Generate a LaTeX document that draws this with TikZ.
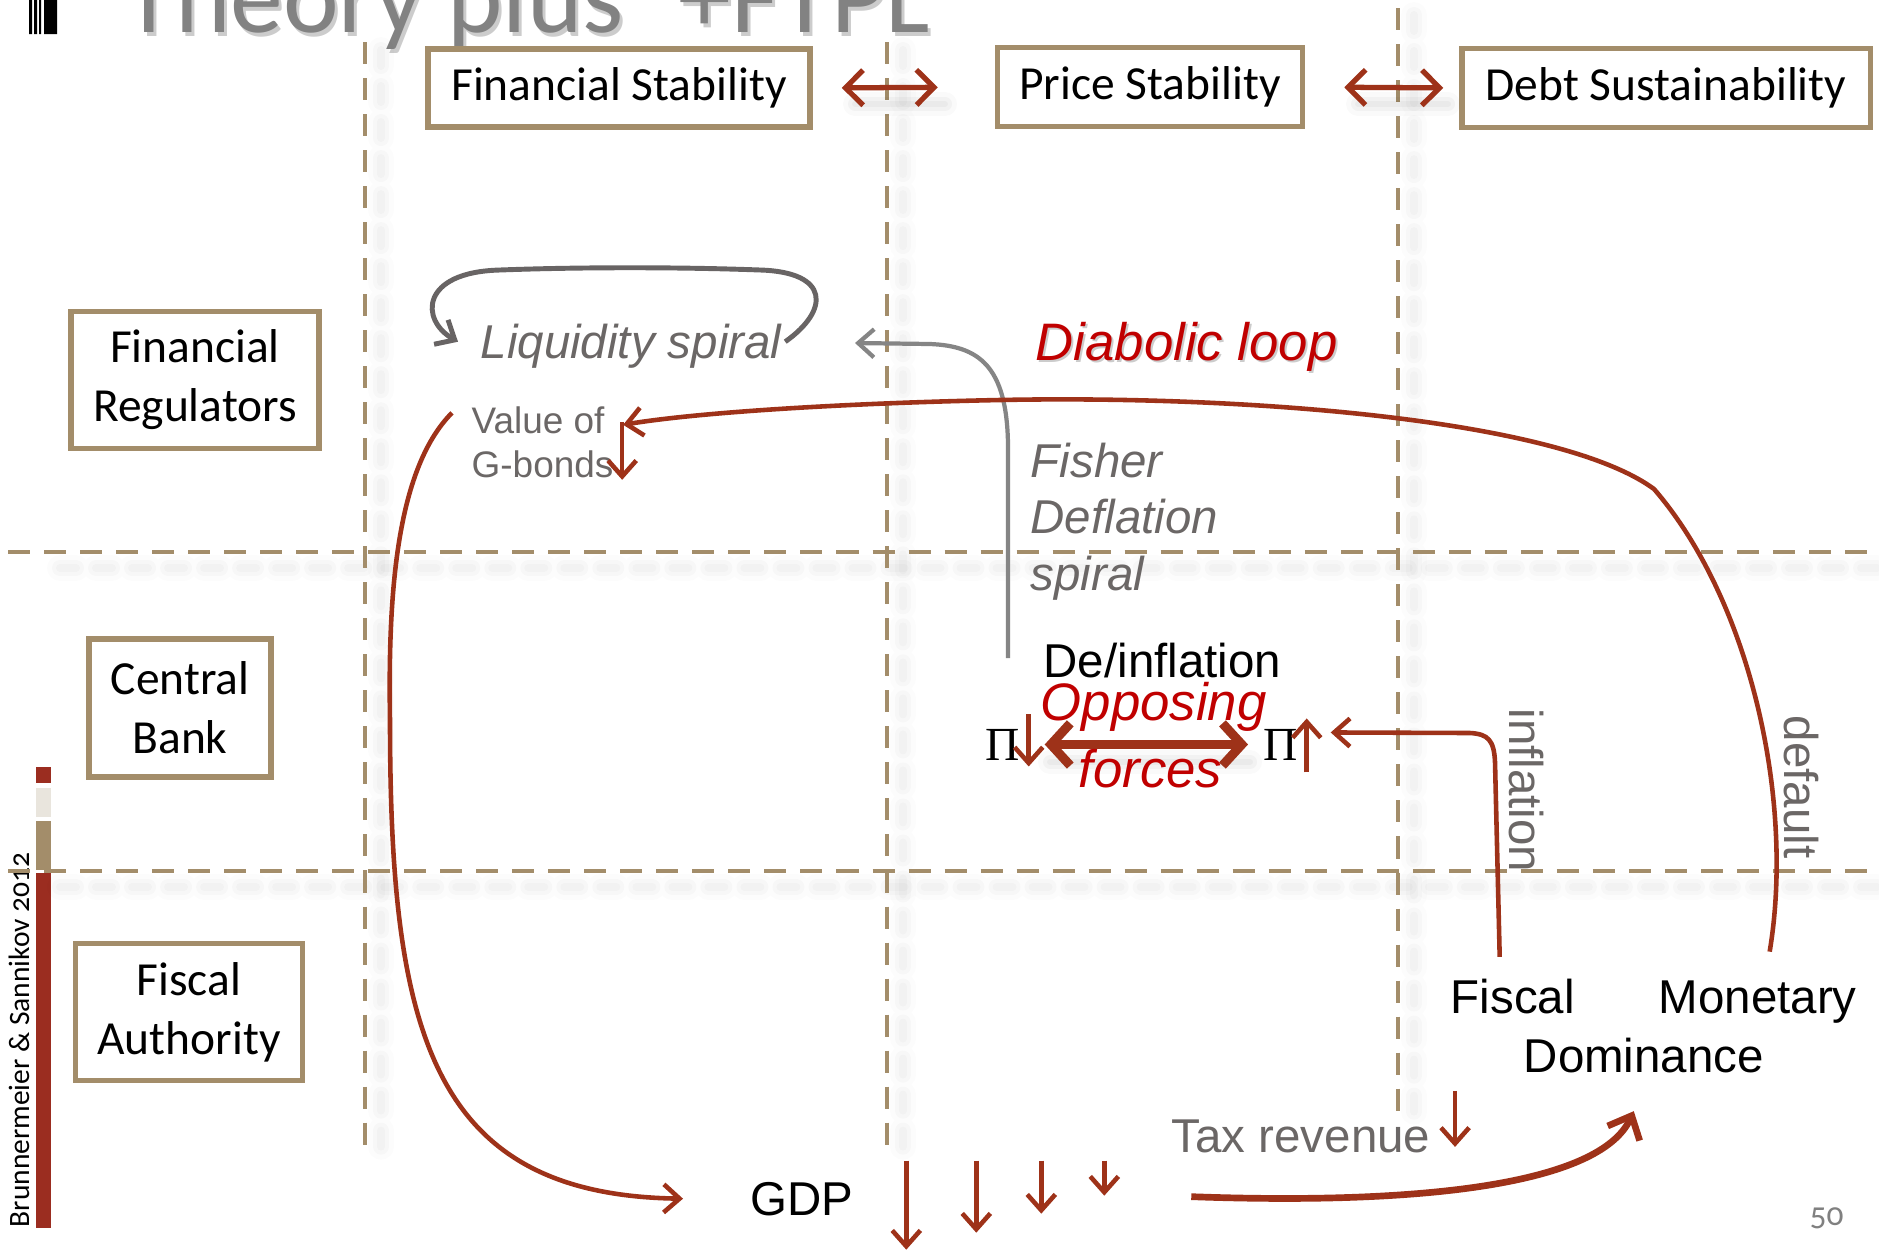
\documentclass[tikz,border=0pt]{standalone}
\usepackage{fontspec}
\setmainfont{Carlito}
\newfontfamily\arialf{Liberation Sans}
\newfontfamily\serifpi{Liberation Serif}
\usetikzlibrary{arrows.meta,calc}

\definecolor{tan}{HTML}{A38D6A}
\definecolor{rust}{HTML}{9E3219}
\definecolor{brightred}{HTML}{C00000}
\definecolor{txtgray}{HTML}{6B6766}
\definecolor{arrgray}{HTML}{858585}
\definecolor{loopgray}{HTML}{686464}
\definecolor{barred}{HTML}{9B2D20}
\definecolor{barlight}{HTML}{E9E5DD}
\definecolor{titlegray}{HTML}{828282}

% a soft, blurred shadow stroke built from stacked translucent strokes
\newcommand\hazeline[2]{%
  \draw[black, opacity=0.012, line width=0.26cm, line cap=round, dash pattern=on 0.16cm off 0.2cm] #1 -- #2;
  \draw[black, opacity=0.018, line width=0.16cm, line cap=round, dash pattern=on 0.16cm off 0.2cm] #1 -- #2;
  \draw[black, opacity=0.02, line width=0.08cm, line cap=round, dash pattern=on 0.16cm off 0.2cm] #1 -- #2;}
\newcommand\hazesolid[2]{%
  \draw[black, opacity=0.02, line width=0.24cm, line cap=round] #1 -- #2;
  \draw[black, opacity=0.03, line width=0.14cm, line cap=round] #1 -- #2;
  \draw[black, opacity=0.03, line width=0.06cm, line cap=round] #1 -- #2;}

\begin{document}
\begin{tikzpicture}[x=0.01cm, y=-0.01cm,
  labelbox/.style={draw=tan, line width=1.5pt, fill=white, align=center, inner sep=0pt,
                   font=\fontsize{13.5}{16.8}\selectfont},
  gridline/.style={tan, line width=1.4pt, dash pattern=on 0.22cm off 0.14cm},
  txt/.style={inner sep=0pt, anchor=base west, font=\arialf\fontsize{13.5}{16}\selectfont},
  itxt/.style={txt, font=\arialf\itshape\fontsize{13.5}{16}\selectfont},
  redtxt/.style={inner sep=0pt, anchor=base west, text=brightred, font=\arialf\itshape\fontsize{15}{18}\selectfont},
  tshadow/.style={text=black, opacity=0.2},
  barb/.style={-{Straight Barb[length=4.5pt, width=8pt]}},
  rustarrow/.style={rust, line width=1.3pt, barb},
  bigrust/.style={rust, line width=1.9pt, -{Straight Barb[length=5.5pt, width=10pt]}},
  toparrow/.style={rust, line width=1.5pt, {Straight Barb[length=5pt, width=10pt]}-{Straight Barb[length=5pt, width=10pt]}},
  oppose/.style={rust, line width=2.6pt, {Straight Barb[length=5.5pt, width=12pt]}-{Straight Barb[length=5.5pt, width=12pt]}},
  grayarrow/.style={arrgray, line width=1.2pt, barb},
  looparrow/.style={loopgray, line width=1.4pt, barb}
]
\useasboundingbox (0,0) rectangle (1879,1254);
\fill[white] (0,0) rectangle (1879,1254);

% slide heading, cut by the top edge
\node[inner sep=0pt, anchor=base west, font=\fontsize{30}{30}\selectfont, tshadow] (titleshade) at (126,36) {Theory plus\hspace{0.55cm}+FTPL};
\node[inner sep=0pt, anchor=base west, font=\fontsize{30}{30}\selectfont, text=titlegray] (title) at (123,32) {Theory plus\hspace{0.55cm}+FTPL};
\fill[black] (29,0) rectangle (32,34) (34,0) rectangle (37,34) (39,0) rectangle (41,34) (44,0) rectangle (57,34);

% side bar
\fill[barred] (36,767) rectangle (51,783);
\fill[barlight] (36,788) rectangle (51,817);
\fill[tan] (36,821) rectangle (51,870);
\fill[barred] (36,873) rectangle (51,1228);
\node[inner sep=0pt, anchor=base west, rotate=90, font=\fontsize{8.4}{9}\selectfont\addfontfeatures{Numbers=OldStyle}] (credit) at (29,1228) {Brunnermeier \& Sannikov 2012};

% grid shadows
\hazeline{(381,50)}{(381,1160)}
\hazeline{(903,50)}{(903,1160)}
\hazeline{(1414,15)}{(1414,1122)}
\hazeline{(60,568)}{(1879,568)}
\hazeline{(60,887)}{(1879,887)}

% grid
\draw[gridline] (365,42) -- (365,1150);
\draw[gridline] (887,42) -- (887,1150);
\draw[gridline] (1398,8) -- (1398,1112);
\draw[gridline] (8,552) -- (1879,552);
\draw[gridline] (8,871) -- (1879,871);

% objectives and institutions
\node[labelbox, minimum width=3.82cm, minimum height=0.78cm] (finstab) at (619,88) {Financial Stability};
\node[labelbox, minimum width=3.05cm, minimum height=0.79cm] (pricestab) at (1150,87) {Price Stability};
\node[labelbox, minimum width=4.08cm, minimum height=0.79cm] (debtsus) at (1666,88) {Debt Sustainability};
\node[labelbox, minimum width=2.48cm, minimum height=1.37cm] (finreg) at (195,380) {Financial\\Regulators};
\node[labelbox, minimum width=1.82cm, minimum height=1.38cm] (cbank) at (180,708) {Central\\Bank};
\node[labelbox, minimum width=2.27cm, minimum height=1.37cm] (fiscauth) at (189,1012) {Fiscal\\Authority};

% trade-offs between the objectives
\hazesolid{(855,104)}{(945,104)}
\hazesolid{(1358,104)}{(1448,104)}
\draw[toparrow, shorten <=0.29cm, shorten >=0.57cm] (finstab.east) -- (pricestab.west);
\draw[toparrow, shorten <=0.39cm, shorten >=0.16cm] (pricestab.east) -- (debtsus.west);

% texts
\node[itxt, text=txtgray] (liq) at (480,358) {Liquidity spiral};
\node[txt, text=txtgray, font=\arialf\fontsize{10.5}{12}\selectfont] (valueof) at (471,433) {Value of};
\node[txt, text=txtgray, font=\arialf\fontsize{10.5}{12}\selectfont] (gbonds) at (471,477) {G-bonds};
\node[redtxt, tshadow] (diashade) at (1037,362) {Diabolic loop};
\node[redtxt] (diabolic) at (1035,360) {Diabolic loop};
\node[itxt, text=txtgray] (fisher) at (1030,477) {Fisher};
\node[itxt, text=txtgray] (deflation) at (1030,533) {Deflation};
\node[itxt, text=txtgray] (spiral) at (1030,590) {spiral};
\node[txt] (definfl) at (1043,677) {De/inflation};
\node[inner sep=0pt, anchor=base west, font=\serifpi\fontsize{13.5}{14}\selectfont] (pileft) at (985,760) {Π};
\node[inner sep=0pt, anchor=base west, font=\serifpi\fontsize{13.5}{14}\selectfont] (piright) at (1263,760) {Π};
\node[txt] (gdp) at (750,1215) {GDP};
\node[txt, text=txtgray] (tax) at (1171,1152) {Tax revenue};
\node[txt] (fiscal) at (1450,1013) {Fiscal};
\node[txt] (monetary) at (1658,1013) {Monetary};
\node[txt] (dominance) at (1523,1072) {Dominance};
\node[txt, text=txtgray, rotate=-90] (infllbl) at (1509,708) {inflation};
\node[txt, text=txtgray, rotate=-90] (defaultlbl) at (1784,715) {default};
\node[inner sep=0pt, anchor=base west, text=gray, font=\fontsize{9.5}{10}\selectfont\addfontfeatures{Numbers=OldStyle}] (pagenum) at (1809,1225) {50};

% liquidity spiral loop
\draw[looparrow] ($(liq.east)+(3,-4)$) .. controls (830,310) and (830,272) .. (760,270)
   .. controls (680,267) and (580,267) .. (500,270)
   .. controls (420,272) and (420,320) .. ($(liq.west)+(-22,-4)$);

% Fisher deflation spiral
\coordinate (fishfoot) at ($(definfl.west)+(-35,-2)$);
\coordinate (fishtip) at (855,343);
\draw[grayarrow] (fishfoot) -- (1008,445) .. controls (1007,365) and (978,346) .. (930,344) -- (fishtip);

% diabolic loop: default feeds back on bond values
\draw[rustarrow] ($(monetary.north)+(12,-28)$) .. controls (1795,800) and (1750,600) .. (1654,489)
   .. controls (1560,420) and (1250,395) .. (1000,400)
   .. controls (850,403) and (700,412) .. ($(valueof.east)+(18,5)$);
\draw[rustarrow] ($(valueof.east)+(17,2)$) -- ($(valueof.east)+(17,60)$);

% bond values hit GDP
\draw[rustarrow] ($(valueof.west)+(-19,-7)$) .. controls (395,470) and (388,600) .. (390,720)
   .. controls (390,1030) and (430,1195) .. ($(gdp.west)+(-67,0)$);

% falling GDP
\draw[rustarrow] ($(gdp.east)+(52,-38)$) -- ($(gdp.east)+(52,51)$);
\draw[rustarrow] ($(gdp.east)+(122,-38)$) -- ($(gdp.east)+(122,34)$);
\draw[rustarrow] ($(gdp.east)+(187,-38)$) -- ($(gdp.east)+(187,15)$);
\draw[rustarrow] ($(gdp.east)+(250,-38)$) -- ($(gdp.east)+(250,-3)$);
\draw[rustarrow] ($(tax.east)+(24,-45)$) -- ($(tax.east)+(24,11)$);

% GDP to dominance
\draw[bigrust] ($(gdp.east)+(337,-2)$) .. controls (1420,1205) and (1600,1185) .. ($(dominance.south)+(-10,38)$);

% fiscal dominance raises inflation
\draw[rustarrow] ($(fiscal.north)+(-13,-21)$) -- (1495,762) .. controls (1494,740) and (1488,734) .. (1470,733) -- ($(piright.east)+(32,-12)$);

% opposing forces
\draw[rustarrow] ($(pileft.east)+(8,-30)$) -- ($(pileft.east)+(8,22)$);
\draw[rustarrow] ($(piright.east)+(8,28)$) -- ($(piright.east)+(8,-26)$);
\hazesolid{(1050,762)}{(1250,762)}
\draw[oppose, shorten <=0.24cm, shorten >=0.15cm] (pileft.east) -- (piright.west);
\node[redtxt] (opposing) at (1040,720) {Opposing};
\node[redtxt] (forces) at (1078,787) {forces};
\end{tikzpicture}
\end{document}
